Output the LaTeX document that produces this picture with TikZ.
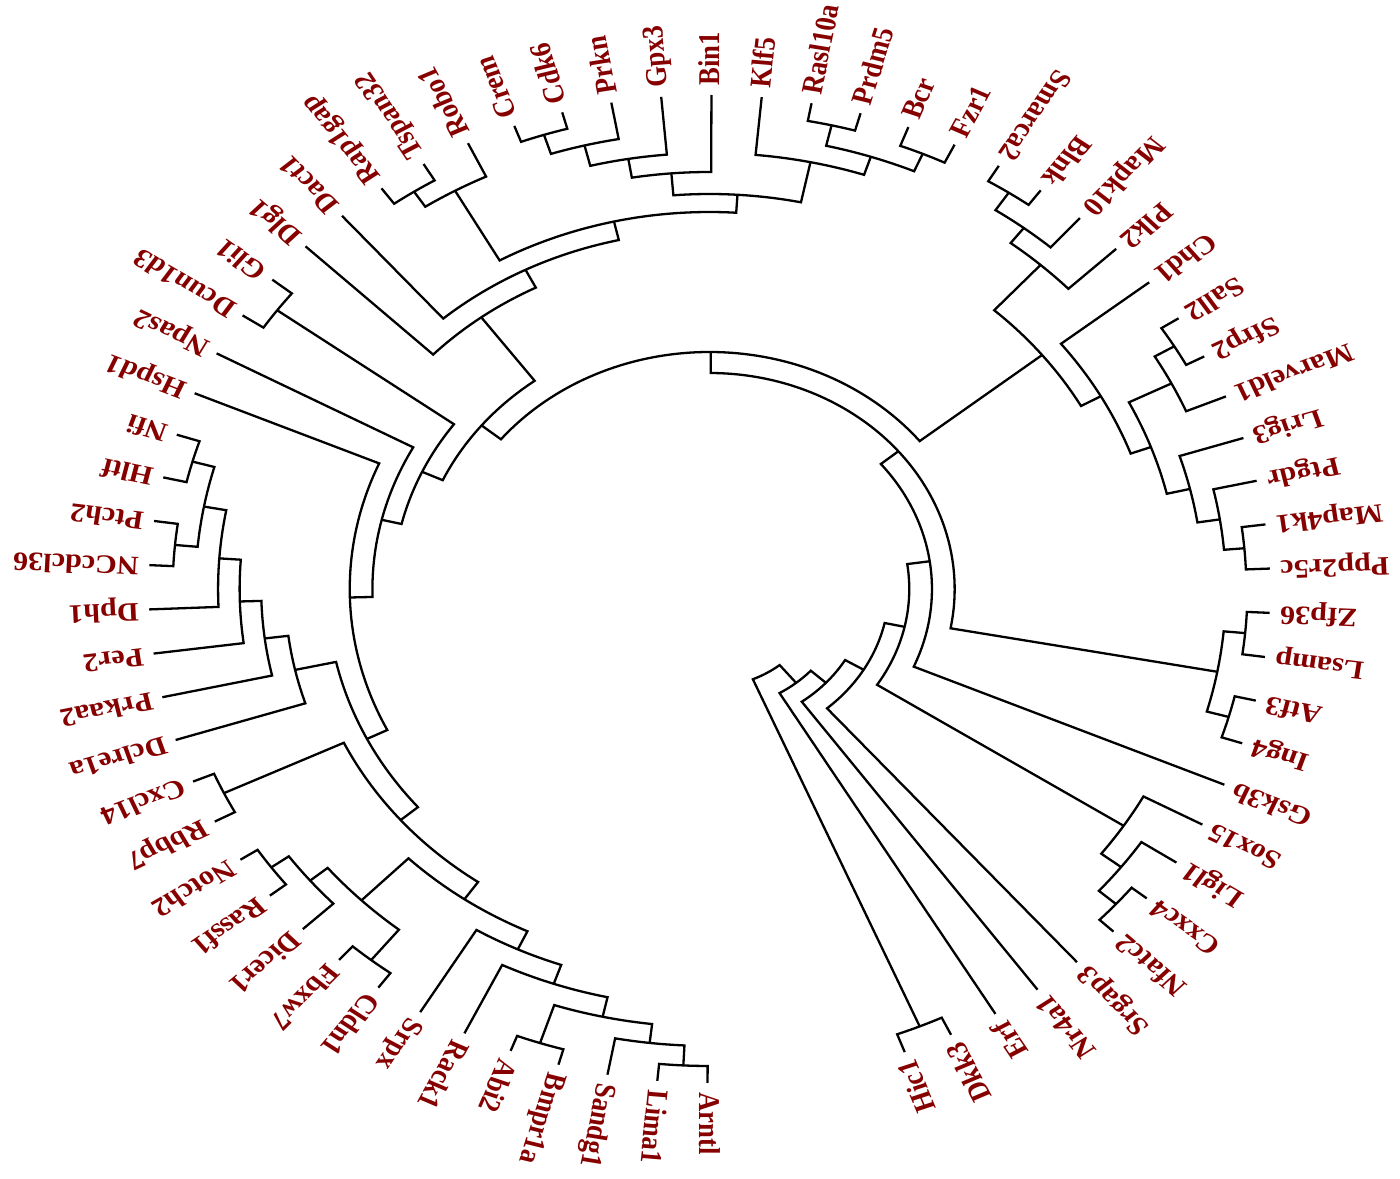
\documentclass[tikz,border=0pt]{standalone}
\usepackage{fontspec}
\setmainfont{Liberation Serif}
\definecolor{labred}{RGB}{135,0,0}
\newcommand\tsetA[2]{\expandafter\xdef\csname tkA@#1\endcsname{#2}}
\newcommand\tgetA[1]{\csname tkA@#1\endcsname}
\newcommand\Rleaf{494}
\newcommand\Rlab{503}
\newcommand\leafL[3]{%
  \pgfmathsetmacro\tkang{269.8-(#2-1)*5.142857}%
  \tsetA{#1}{\tkang}%
  \coordinate (#1) at (\tkang:\Rleaf);%
  \node[lab, rotate=\tkang, anchor=west] (t#1) at (\tkang:\Rlab) {#3};%
}
\newcommand\leafR[3]{%
  \pgfmathsetmacro\tkang{269.8-(#2-1)*5.142857}%
  \pgfmathsetmacro\tkrot{\tkang+180}%
  \tsetA{#1}{\tkang}%
  \coordinate (#1) at (\tkang:\Rleaf);%
  \node[lab, rotate=\tkrot, anchor=east] (t#1) at (\tkang:\Rlab) {#3};%
}
\newcommand\inode[4]{%
  \edef\tka{\tgetA{#2}}\edef\tkb{\tgetA{#3}}%
  \pgfmathsetmacro\tkang{(\tka+\tkb)/2}%
  \tsetA{#1}{\tkang}%
  \coordinate (#1) at (\tkang:#4);%
  \draw[branch] (#2) -- (\tka:#4) arc[start angle=\tka, end angle=\tkb, radius=#4] -- (#3);%
}
\begin{document}
\begin{tikzpicture}[x=0.5pt,y=0.5pt,
  branch/.style={line width=1.15pt, line join=miter, black},
  lab/.style={text=labred, font=\fontsize{13.3}{15}\selectfont\bfseries, inner sep=0pt, text height=0.68em, text depth=0pt}]
\useasboundingbox[fill=white] (0,0) rectangle (1400,1178);
\begin{scope}[shift={(709.5,589)}, xscale=1.135, transform shape]
% leaves
\leafL{Arntl}{1}{Arntl}
\leafL{Lima1}{2}{Lima1}
\leafL{Sandg1}{3}{Sandg1}
\leafL{Bmpr1a}{4}{Bmpr1a}
\leafL{Abi2}{5}{Abi2}
\leafL{Rack1}{6}{Rack1}
\leafL{Srpx}{7}{Srpx}
\leafL{Cldn1}{8}{Cldn1}
\leafL{Fbxw7}{9}{Fbxw7}
\leafL{Dicer1}{10}{Dicer1}
\leafL{Rassf1}{11}{Rassf1}
\leafL{Notch2}{12}{Notch2}
\leafL{Rbbp7}{13}{Rbbp7}
\leafL{Cxcl14}{14}{Cxcl14}
\leafL{Dclre1a}{15}{Dclre1a}
\leafL{Prkaa2}{16}{Prkaa2}
\leafL{Per2}{17}{Per2}
\leafL{Dph1}{18}{Dph1}
\leafL{NCcdcl36}{19}{NCcdcl36}
\leafL{Ptch2}{20}{Ptch2}
\leafL{Hltf}{21}{Hltf}
\leafL{Nfi}{22}{Nfi}
\leafL{Hspd1}{23}{Hspd1}
\leafL{Npas2}{24}{Npas2}
\leafL{Dcun1d3}{25}{Dcun1d3}
\leafL{Gli1}{26}{Gli1}
\leafL{Dlg1}{27}{Dlg1}
\leafL{Dact1}{28}{Dact1}
\leafL{Rap1gap}{29}{Rap1gap}
\leafL{Tspan32}{30}{Tspan32}
\leafL{Robo1}{31}{Robo1}
\leafL{Crem}{32}{Crem}
\leafL{Cdk6}{33}{Cdk6}
\leafL{Prkn}{34}{Prkn}
\leafL{Gpx3}{35}{Gpx3}
\leafL{Bin1}{36}{Bin1}
\leafL{Klf5}{37}{Klf5}
\leafL{Rasl10a}{38}{Rasl10a}
\leafL{Prdm5}{39}{Prdm5}
\leafL{Bcr}{40}{Bcr}
\leafL{Fzr1}{41}{Fzr1}
\leafR{Smarca2}{42}{Smarca2}
\leafR{Blnk}{43}{Blnk}
\leafR{Mapk10}{44}{Mapk10}
\leafR{Plk2}{45}{Plk2}
\leafR{Chd1}{46}{Chd1}
\leafR{Sall2}{47}{Sall2}
\leafR{Sfrp2}{48}{Sfrp2}
\leafR{Marveld1}{49}{Marveld1}
\leafR{Lrig3}{50}{Lrig3}
\leafR{Ptgdr}{51}{Ptgdr}
\leafR{Map4k1}{52}{Map4k1}
\leafR{Ppp2r5c}{53}{Ppp2r5c}
\leafR{Zfp36}{54}{Zfp36}
\leafR{Lsamp}{55}{Lsamp}
\leafR{Atf3}{56}{Atf3}
\leafR{Ing4}{57}{Ing4}
\leafR{Gsk3b}{58}{Gsk3b}
\leafR{Sox15}{59}{Sox15}
\leafR{Ligl1}{60}{Ligl1}
\leafR{Cxxc4}{61}{Cxxc4}
\leafR{Nfatc2}{62}{Nfatc2}
\leafR{Srgap3}{63}{Srgap3}
\leafR{Nr4a1}{64}{Nr4a1}
\leafR{Erf}{65}{Erf}
\leafR{Dkk3}{66}{Dkk3}
\leafR{Hic1}{67}{Hic1}
% left cluster
\inode{nLA}{Arntl}{Lima1}{477}
\inode{nL1j}{Sandg1}{nLA}{457}
\inode{nAB}{Abi2}{Bmpr1a}{478}
\inode{nL1i}{nAB}{nL1j}{438}
\inode{nL1h}{Rack1}{nL1i}{418}
\inode{nL1g}{Srpx}{nL1h}{398}
\inode{nFC}{Fbxw7}{Cldn1}{476}
\inode{nNR}{Notch2}{Rassf1}{476}
\inode{nNRD}{nNR}{Dicer1}{457}
\inode{nNRDFC}{nNRD}{nFC}{437}
\inode{nL1f}{nNRDFC}{nL1g}{378}
\inode{nCR}{Cxcl14}{Rbbp7}{474}
\inode{nL1e}{nCR}{nL1f}{357}
\inode{nNH}{Nfi}{Hltf}{473}
\inode{nPN}{Ptch2}{NCcdcl36}{473}
\inode{nNHPN}{nNH}{nPN}{453}
\inode{nDpG}{nNHPN}{Dph1}{433}
\inode{nPeG}{nDpG}{Per2}{414}
\inode{nPrG}{nPeG}{Prkaa2}{395}
\inode{nL1d}{nPrG}{Dclre1a}{374}
\inode{nL1c}{nL1d}{nL1e}{337}
\inode{nL1b}{Hspd1}{nL1c}{317}
\inode{nL1a}{Npas2}{nL1b}{297}
\inode{nDG}{Dcun1d3}{Gli1}{472}
\inode{nL1}{nDG}{nL1a}{279}
\inode{nRT}{Rap1gap}{Tspan32}{475}
\inode{nQ}{nRT}{Robo1}{457}
\inode{nCC}{Crem}{Cdk6}{477}
\inode{nCCP}{nCC}{Prkn}{457}
\inode{nCCPG}{nCCP}{Gpx3}{436}
\inode{nA}{nCCPG}{Bin1}{417}
\inode{nRP}{Rasl10a}{Prdm5}{476}
\inode{nBF}{Bcr}{Fzr1}{474}
\inode{nRPBF}{nRP}{nBF}{455}
\inode{nB}{Klf5}{nRPBF}{436}
\inode{nP1}{nA}{nB}{395}
\inode{nP2}{nQ}{nP1}{377}
\inode{nM}{Dact1}{nP2}{358}
\inode{nL2}{Dlg1}{nM}{338}
\inode{nL}{nL1}{nL2}{259}
% right cluster
\inode{nSB}{Smarca2}{Blnk}{476}
\inode{nSBM}{nSB}{Mapk10}{455}
\inode{nG1}{nSBM}{Plk2}{436}
\inode{nSS}{Sall2}{Sfrp2}{476}
\inode{nSSM}{nSS}{Marveld1}{456}
\inode{nMP}{Map4k1}{Ppp2r5c}{473}
\inode{nPMP}{Ptgdr}{nMP}{455}
\inode{nLPMP}{Lrig3}{nPMP}{435}
\inode{nZ}{nSSM}{nLPMP}{414}
\inode{nY}{Chd1}{nZ}{395}
\inode{nUR}{nG1}{nY}{375}
\inode{nTop}{nL}{nUR}{237}
\inode{nZL}{Zfp36}{Lsamp}{474}
\inode{nAI}{Atf3}{Ing4}{475}
\inode{nZLAI}{nZL}{nAI}{455}
\inode{nN6}{nTop}{nZLAI}{216}
\inode{nN5}{nN6}{Gsk3b}{196}
\inode{nCN}{Cxxc4}{Nfatc2}{477}
\inode{nLCN}{Ligl1}{nCN}{457}
\inode{nSLCN}{Sox15}{nLCN}{435}
\inode{nN4}{nN5}{nSLCN}{176}
\inode{nN3}{nN4}{Srgap3}{158}
\inode{nN2}{nN3}{Nr4a1}{139}
\inode{nN1}{nN2}{Erf}{121}
\inode{nH}{Dkk3}{Hic1}{475}
\inode{nRoot}{nN1}{nH}{98}
\end{scope}
\end{tikzpicture}
\end{document}
